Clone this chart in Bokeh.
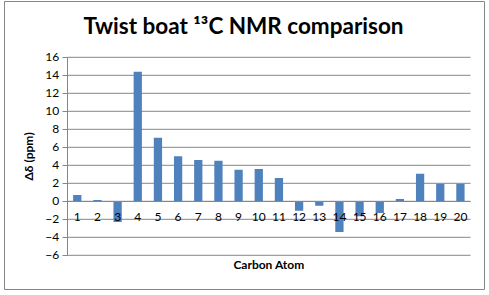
from bokeh.plotting import figure
from bokeh.models import Range1d, FixedTicker, Label, ColumnDataSource
from bokeh.embed import file_html
from bokeh.resources import INLINE

# ---- data ----
categories = ["1", "2", "3", "4", "5", "6", "7", "8", "9", "10",
              "11", "12", "13", "14", "15", "16", "17", "18", "19", "20"]
delta_ppm = [0.7, 0.15, -2.3, 14.4, 7.05, 5.0, 4.6, 4.5, 3.5, 3.6,
             2.6, -1.05, -0.5, -3.4, -1.65, -1.3, 0.25, 3.05, 1.95, 1.95]
y_ticks = [-6, -4, -2, 0, 2, 4, 6, 8, 10, 12, 14, 16]
title_text = "Twist boat \u00b9\u00b3C NMR comparison"
x_title = "Carbon Atom"
y_title = "\u0394\u03b4 (ppm)"

FONT = "Lato"
GRID = "#868686"
BAR = "#4F81BD"

n = len(categories)
xpos = list(range(1, n + 1))
src = ColumnDataSource(dict(x=xpos, top=delta_ppm, cat=categories))

ymin, ymax = y_ticks[0], y_ticks[-1]
lo, hi = 0.5, n + 0.5

p = figure(width=489, height=295, output_backend="svg", toolbar_location=None,
           x_range=Range1d(-2.609, 21.194), y_range=Range1d(-9.8, 22.2),
           min_border_left=4, min_border_right=5, min_border_top=1, min_border_bottom=6,
           x_axis_location="below", y_axis_location="left")
p.outline_line_color = GRID
p.outline_line_width = 1
p.background_fill_color = "white"
p.border_fill_color = "white"
p.xgrid.visible = False
p.ygrid.visible = False

# horizontal gridlines over the plot area
p.segment(x0=[lo] * len(y_ticks), x1=[hi] * len(y_ticks), y0=y_ticks, y1=y_ticks,
          line_color=GRID, line_width=1)

# bars
p.vbar(x="x", top="top", bottom=0, width=0.41, source=src, fill_color=BAR, line_color=None)

# y axis
ya = p.yaxis[0]
ya.fixed_location = lo
ya.bounds = (ymin, ymax)
ya.ticker = FixedTicker(ticks=y_ticks)
ya.axis_line_color = GRID
ya.major_tick_line_color = GRID
ya.major_tick_out = 5
ya.major_tick_in = 0
ya.minor_tick_line_color = None
ya.major_label_text_font = FONT
ya.major_label_text_font_size = "12px"
ya.major_label_text_color = "#000000"
ya.major_label_standoff = 3
ya.axis_label = y_title
ya.axis_label_text_font = FONT
ya.axis_label_text_font_size = "12px"
ya.axis_label_text_font_style = "bold"
ya.axis_label_text_color = "#000000"
ya.axis_label_standoff = 7

# x axis (category labels next to the zero line)
xa = p.xaxis[0]
xa.fixed_location = 0
xa.bounds = (lo, hi)
xa.ticker = FixedTicker(ticks=xpos)
xa.major_label_overrides = {x: c for x, c in zip(xpos, categories)}
xa.axis_line_color = GRID
xa.major_tick_line_color = None
xa.major_tick_out = 0
xa.major_tick_in = 0
xa.minor_tick_line_color = None
xa.major_label_text_font = FONT
xa.major_label_text_font_size = "12px"
xa.major_label_text_color = "#000000"
xa.major_label_standoff = 12
xa.axis_label = x_title
xa.axis_label_text_font = FONT
xa.axis_label_text_font_size = "12px"
xa.axis_label_text_font_style = "bold"
xa.axis_label_text_color = "#000000"
xa.axis_label_standoff = 32

# chart title
p.add_layout(Label(x=239, y=264, x_units="screen", y_units="screen", text=title_text,
                   text_align="center", text_baseline="alphabetic",
                   text_font=FONT, text_font_size="22.5px", text_font_style="bold",
                   text_color="#000000"))

open("out.html", "w").write(file_html(p, INLINE))
